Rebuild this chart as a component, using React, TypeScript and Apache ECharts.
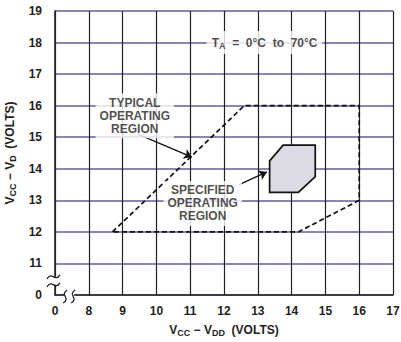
import React, { useEffect, useRef } from "react";
import * as echarts from "echarts";

// axis ranges (the first tick of each axis is drawn as the broken "0")
const xTicks = [7, 8, 9, 10, 11, 12, 13, 14, 15, 16, 17];
const xTickLabels = ["0", "8", "9", "10", "11", "12", "13", "14", "15", "16", "17"];
const yTicks = [10, 11, 12, 13, 14, 15, 16, 17, 18, 19];
const yTickLabels = ["0", "11", "12", "13", "14", "15", "16", "17", "18", "19"];

// regions (Vcc-Vdd, Vcc-Vd)
const typicalRegion = [
  [8.7, 12],
  [12.6, 16],
  [16, 16],
  [16, 13],
  [14.2, 12],
  [8.7, 12],
];
const specifiedRegion = [
  [13.75, 14.75],
  [14.7, 14.75],
  [14.7, 13.75],
  [14.2, 13.25],
  [13.35, 13.25],
  [13.35, 14.25],
];

// annotations
const typicalLabelPos = [9.36, 15.68];
const specifiedLabelPos = [11.37, 12.9];
const tempLabelPos = [13.2, 18];
const typicalArrow = [[9.45, 15.1], [11.05, 14.37]];
const specifiedArrow = [[12.45, 13.5], [13.27, 13.9]];

const FONT = "'Liberation Sans', Arial, sans-serif";
const TEXT = "#1e1e1e";
const FS = 12;
const SUB = 9;

export default function App() {
  const ref = useRef<HTMLDivElement>(null);
  useEffect(() => {
    if (!ref.current) return;
    const chart = echarts.init(ref.current, null, { renderer: "svg" });
    const rich = {
      b: { fontFamily: FONT, fontWeight: "bold", fontSize: FS, color: TEXT },
      s: { fontFamily: FONT, fontWeight: "bold", fontSize: SUB, color: TEXT, padding: [6, 0, 0, 0] },
    };
    const labelStyle = {
      show: true,
      position: "inside",
      color: TEXT,
      fontFamily: FONT,
      fontWeight: "bold",
      fontSize: FS,
      lineHeight: 13,
      align: "center",
      verticalAlign: "middle",
      backgroundColor: "#ffffff",
      padding: [3, 4, 3, 4],
    };
    const option: any = {
      animation: false,
      backgroundColor: "#ffffff",
      grid: { left: 55, right: 8, top: 11, bottom: 47, outerBoundsMode: "none", containLabel: false },
      xAxis: {
        type: "value",
        min: xTicks[0],
        max: xTicks[xTicks.length - 1],
        interval: 1,
        axisLine: { show: true, lineStyle: { color: "#222", width: 1.5 } },
        axisTick: { show: false },
        axisLabel: {
          margin: 10,
          color: TEXT,
          fontFamily: FONT,
          fontWeight: "bold",
          fontSize: FS,
          formatter: (v: number) => xTickLabels[xTicks.indexOf(v)] ?? "",
        },
        splitLine: { show: true, lineStyle: { color: "#222", width: 1.2 } },
        name: "{b|V}{s|CC}{b| − V}{s|DD}{b|  (VOLTS)}",
        nameLocation: "middle",
        nameGap: 27,
        nameTextStyle: { rich },
      },
      yAxis: {
        type: "value",
        min: yTicks[0],
        max: yTicks[yTicks.length - 1],
        interval: 1,
        axisLine: { show: true, lineStyle: { color: "#222", width: 1.5 } },
        axisTick: { show: false },
        axisLabel: {
          margin: 13,
          color: TEXT,
          fontFamily: FONT,
          fontWeight: "bold",
          fontSize: FS,
          formatter: (v: number) => yTickLabels[yTicks.indexOf(v)] ?? "",
        },
        splitLine: { show: true, lineStyle: { color: "#5f5ca6", width: 1.5 } },
        name: "{b|V}{s|CC}{b| − V}{s|D}{b|  (VOLTS)}",
        nameLocation: "middle",
        nameGap: 31,
        nameRotate: 90,
        nameTextStyle: { rich },
      },
      series: [
        {
          type: "line",
          data: typicalRegion,
          symbol: "none",
          lineStyle: { color: "#111", width: 1.7, type: [5, 3] },
          z: 3,
        },
        {
          type: "custom",
          data: [specifiedRegion[0]],
          renderItem: (params: any, api: any) => {
            const pts = specifiedRegion.map((p) => api.coord(p));
            return {
              type: "polygon",
              shape: { points: pts },
              style: { fill: "#dcdae2", stroke: "#111", lineWidth: 1.7 },
            };
          },
          z: 3,
        },
        {
          type: "lines",
          coordinateSystem: "cartesian2d",
          data: [{ coords: typicalArrow }, { coords: specifiedArrow }],
          symbol: ["none", "arrow"],
          symbolSize: [0, 8],
          lineStyle: { color: "#111", width: 1.3, opacity: 1 },
          z: 4,
        },
        {
          type: "scatter",
          symbolSize: 1,
          itemStyle: { color: "rgba(0,0,0,0)" },
          z: 5,
          data: [
            { value: typicalLabelPos, label: { ...labelStyle, formatter: "TYPICAL\nOPERATING\nREGION" } },
            { value: specifiedLabelPos, label: { ...labelStyle, formatter: "SPECIFIED\nOPERATING\nREGION" } },
            {
              value: tempLabelPos,
              label: {
                ...labelStyle,
                padding: [5, 5, 5, 5],
                formatter: "{b|T}{s|A}{b|  =  0°C  to  70°C}",
                rich,
              },
            },
          ],
        },
      ],
    };
    chart.setOption(option);

    // axis break marks
    const yb = chart.convertToPixel({ gridIndex: 0 }, [xTicks[0], 10.45]) as number[];
    const xb = chart.convertToPixel({ gridIndex: 0 }, [7.42, yTicks[0]]) as number[];
    const stroke = { stroke: "#222", lineWidth: 1.3, fill: "none" };
    const tildeH = (x: number, y: number) => ({
      type: "bezierCurve",
      shape: { x1: x - 7, y1: y + 2, x2: x + 6, y2: y - 2, cpx1: x - 2, cpy1: y - 6, cpx2: x + 1, cpy2: y + 6 },
      style: stroke,
      z: 10,
    });
    const tildeV = (x: number, y: number) => ({
      type: "bezierCurve",
      shape: { x1: x - 2, y1: y + 7, x2: x + 2, y2: y - 6, cpx1: x + 6, cpy1: y + 2, cpx2: x - 6, cpy2: y - 1 },
      style: stroke,
      z: 10,
    });
    chart.setOption({
      graphic: [
        { type: "rect", shape: { x: yb[0] - 4, y: yb[1] - 4, width: 8, height: 8 }, style: { fill: "#fff" }, z: 9 },
        tildeH(yb[0] - 1, yb[1] - 4),
        tildeH(yb[0] - 1, yb[1] + 4),
        { type: "rect", shape: { x: xb[0] - 5, y: xb[1] - 4, width: 10, height: 8 }, style: { fill: "#fff" }, z: 9 },
        tildeV(xb[0] - 4, xb[1] + 1),
        tildeV(xb[0] + 4, xb[1] + 1),
      ],
    });
    return () => chart.dispose();
  }, []);
  return (
    <div
      ref={ref}
      style={{ position: "fixed", left: 0, top: 0, width: 401, height: 342, background: "#fff" }}
    />
  );
}
